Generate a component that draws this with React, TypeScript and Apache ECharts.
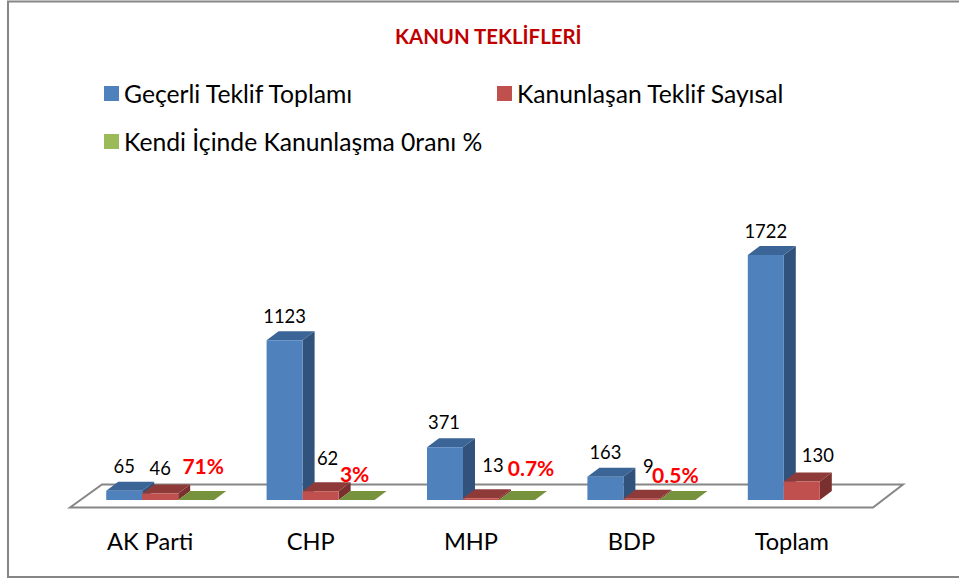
import React, { useEffect, useRef } from "react";
import * as echarts from "echarts";

const categories = ["AK Parti", "CHP", "MHP", "BDP", "Toplam"];
const seriesNames = ["Geçerli Teklif Toplamı", "Kanunlaşan Teklif Sayısal", "Kendi İçinde Kanunlaşma 0ranı %"];
const totalProposals = [65, 1123, 371, 163, 1722];
const passedProposals = [46, 62, 13, 9, 130];
const passRates = [0.71, 0.03, 0.007, 0.005, null];
const totalLabels = ["65", "1123", "371", "163", "1722"];
const passedLabels = ["46", "62", "13", "9", "130"];
const rateLabels = ["71%", "3%", "0.7%", "0.5%", ""];

const FONT = "Lato, Carlito, sans-serif";
const BAR_RATIO = 36 / 160.4;
const DX = 12;
const DY = 9;

const faces = [
  { front: "#4F81BD", top: "#3C6597", side: "#31527B" },
  { front: "#C0504D", top: "#8E3A38", side: "#7A302E" },
  { front: "#9BBB59", top: "#76923C", side: "#5F7530" },
];
// label nudges from the bar-centre / bar-top anchor
const nudges = [
  [[0, -25], [0, -24], [-1, -25], [0, -25], [0, -24]],
  [[0, -25], [7, -33], [12, -33], [7, -33], [16, -27]],
  [[7, -34], [-2, -26], [14, -32], [-2, -25], [0, 0]],
];

function makeSeries(name: string, values: (number | null)[], labels: string[], idx: number) {
  const c = faces[idx];
  return {
    type: "custom",
    name,
    coordinateSystem: "cartesian2d",
    itemStyle: { color: c.front },
    encode: { x: 0, y: 1 },
    data: values.map((v, i) => [i, v]),
    renderItem: (_p: any, api: any) => {
      const v = api.value(1);
      if (v === null || v === undefined || isNaN(v)) return { type: "group", children: [] };
      const i = api.value(0);
      const band = api.size([1, 0])[0];
      const w = band * BAR_RATIO;
      const [cx, y1] = api.coord([i, v]);
      const [, y0] = api.coord([i, 0]);
      const x0 = cx - 1.5 * w + idx * w;
      const x1 = x0 + w;
      const children: any[] = [
        { type: "polygon", shape: { points: [[x1, y1], [x1 + DX, y1 - DY], [x1 + DX, y0 - DY], [x1, y0]] }, style: { fill: c.side } },
        { type: "polygon", shape: { points: [[x0, y1], [x0 + DX, y1 - DY], [x1 + DX, y1 - DY], [x1, y1]] }, style: { fill: c.top } },
        { type: "rect", shape: { x: x0, y: y1, width: w, height: y0 - y1 }, style: { fill: c.front } },
      ];
      const t = labels[i];
      if (t) {
        const [nx, ny] = nudges[idx][i];
        children.push({
          type: "text",
          z2: 100,
          style: {
            text: t,
            x: x0 + w / 2 + nx,
            y: y1 + ny,
            align: "center",
            verticalAlign: "middle",
            font: idx === 2 ? `bold 21px ${FONT}` : `18.4px ${FONT}`,
            fill: idx === 2 ? "#FF0000" : "#000000",
          },
        });
      }
      return { type: "group", children };
    },
  };
}

function makeLegend(name: string, left: number, top: number) {
  return {
    data: [name],
    left,
    top,
    padding: 0,
    itemWidth: 15,
    itemHeight: 15,
    itemGap: 8,
    icon: "rect",
    selectedMode: false,
    textStyle: { fontFamily: FONT, fontSize: 24.7, color: "#000000", padding: [0, 0, 4, 0] },
  };
}

export default function App() {
  const ref = useRef<HTMLDivElement>(null);
  useEffect(() => {
    document.body.style.margin = "0";
    const chart = echarts.init(ref.current!, undefined, { renderer: "svg" });
    chart.setOption({
      animation: false,
      backgroundColor: "#FFFFFF",
      title: {
        text: "KANUN TEKLİFLERİ",
        left: 395,
        top: 26,
        padding: 0,
        textStyle: { fontFamily: FONT, fontSize: 20.4, fontWeight: "bold", color: "#C00000" },
      },
      legend: [makeLegend(seriesNames[0], 104, 81), makeLegend(seriesNames[1], 497, 81), makeLegend(seriesNames[2], 104, 129)],
      grid: { left: 80, width: 802, top: 215.4, height: 284.6, containLabel: false },
      xAxis: {
        type: "category",
        data: categories,
        axisLine: { show: false },
        axisTick: { show: false },
        splitLine: { show: false },
        axisLabel: { fontFamily: FONT, fontSize: 23.6, color: "#000000", margin: 29, padding: [0, 20, 0, 0] },
      },
      yAxis: { type: "value", min: 0, max: 2000, show: false, splitLine: { show: false } },
      graphic: [
        { type: "rect", z: -10, shape: { x: 8, y: 1.5, width: 960, height: 575.5 }, style: { fill: "#FFFFFF", stroke: "#868686", lineWidth: 2 } },
        { type: "polygon", z: -5, shape: { points: [[70, 507.5], [102, 484.5], [903, 484.5], [873, 507.5]] }, style: { fill: "#FFFFFF", stroke: "#868686", lineWidth: 2 } },
      ],
      series: [
        makeSeries(seriesNames[0], totalProposals, totalLabels, 0),
        makeSeries(seriesNames[1], passedProposals, passedLabels, 1),
        makeSeries(seriesNames[2], passRates, rateLabels, 2),
      ],
    });
    return () => chart.dispose();
  }, []);
  return <div ref={ref} style={{ width: 959, height: 578 }} />;
}
